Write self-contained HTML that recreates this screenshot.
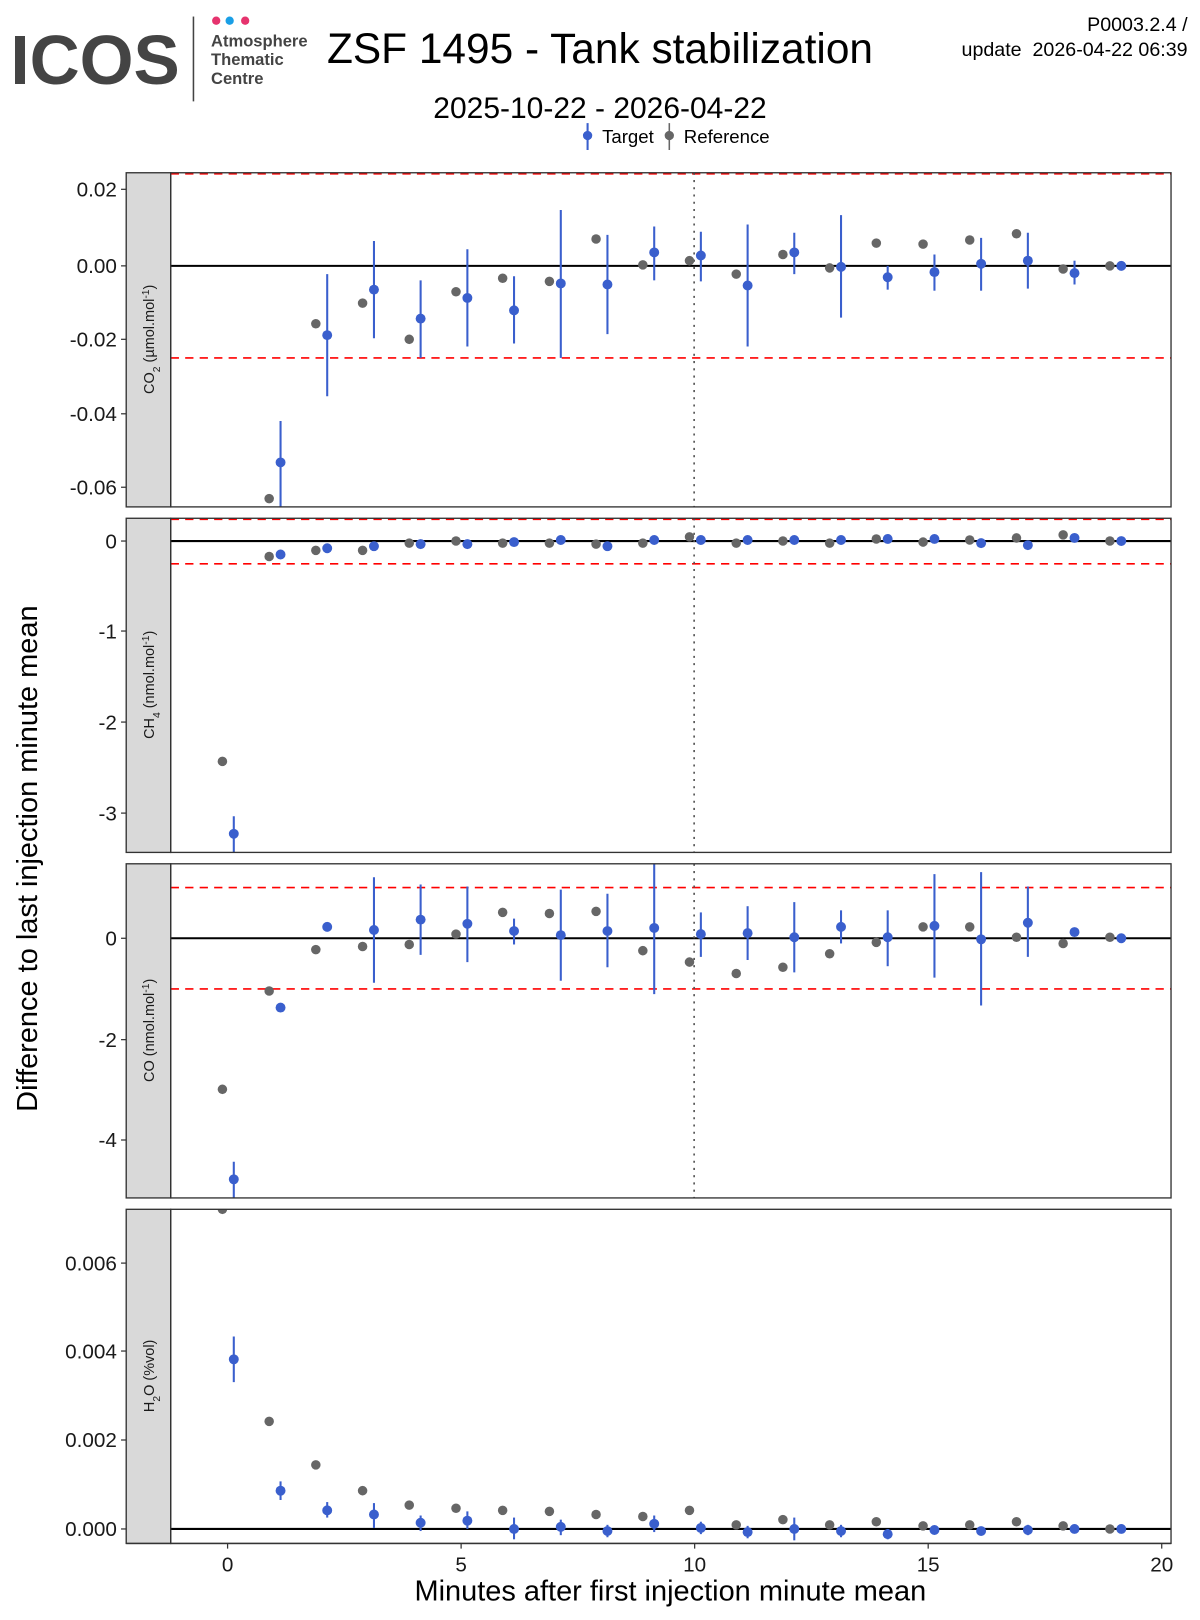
<!DOCTYPE html>
<html><head><meta charset="utf-8"><style>
html,body{margin:0;padding:0;background:#fff}
svg{display:block}
text{font-family:"Liberation Sans",sans-serif}
.tl{font-size:20px;text-anchor:end;fill:#1a1a1a}
.xl{font-size:20px;text-anchor:middle;fill:#1a1a1a}
.st{font-size:14px;text-anchor:middle;fill:#1a1a1a}
.g circle{fill:#666}
.b circle{fill:#3a5fcd}
.b line{stroke:#3a5fcd;stroke-width:2}
.strip{fill:#d9d9d9;stroke:#333;stroke-width:1.3}
.frame{fill:none;stroke:#333;stroke-width:1.3}
.tk{stroke:#333;stroke-width:1.2}
.z{stroke:#000;stroke-width:2}
.r{stroke:#f00;stroke-width:1.6;stroke-dasharray:8,6}
.v{stroke:#555;stroke-width:1.6;stroke-dasharray:2,5}
</style></head><body>
<svg width="1200" height="1620" viewBox="0 0 1160 1566" xmlns="http://www.w3.org/2000/svg">
<defs>
<clipPath id="c0"><rect x="165" y="167" width="967" height="323"/></clipPath>
<clipPath id="c1"><rect x="165" y="501" width="967" height="323"/></clipPath>
<clipPath id="c2"><rect x="165" y="835" width="967" height="323"/></clipPath>
<clipPath id="c3"><rect x="165" y="1169" width="967" height="323"/></clipPath>
</defs>
<rect width="1160" height="1566" fill="#fff"/>
<text x="10" y="81" font-size="67" font-weight="bold" fill="#444">ICOS</text>
<line x1="187" y1="16" x2="187" y2="98" stroke="#444" stroke-width="1.5"/>
<circle cx="209" cy="20" r="4" fill="#e6336e"/><circle cx="222" cy="20" r="4" fill="#1a9fe6"/><circle cx="237" cy="20" r="4" fill="#e6336e"/>
<text x="204" y="45" font-size="16" font-weight="bold" fill="#444">Atmosphere</text>
<text x="204" y="63" font-size="16" font-weight="bold" fill="#444">Thematic</text>
<text x="204" y="81" font-size="16" font-weight="bold" fill="#444">Centre</text>
<text x="580" y="61" font-size="41" text-anchor="middle">ZSF 1495 - Tank stabilization</text>
<text x="580" y="114" font-size="29" text-anchor="middle">2025-10-22 - 2026-04-22</text>
<text x="1148" y="30" font-size="19" text-anchor="end">P0003.2.4 /</text>
<text x="1148" y="54" font-size="19" text-anchor="end" xml:space="preserve">update  2026-04-22 06:39</text>
<line x1="568" y1="119" x2="568" y2="145" stroke="#3a5fcd" stroke-width="2"/><circle cx="568" cy="131" r="4.5" fill="#3a5fcd"/>
<text x="582" y="138" font-size="18">Target</text>
<line x1="647" y1="119" x2="647" y2="145" stroke="#666" stroke-width="1.5"/><circle cx="647" cy="131" r="4.5" fill="#666"/>
<text x="661" y="138" font-size="18">Reference</text>
<text x="648" y="1547" font-size="28" text-anchor="middle">Minutes after first injection minute mean</text>
<text transform="translate(36,830) rotate(-90)" font-size="28" text-anchor="middle">Difference to last injection minute mean</text>

<!-- Panel 1 CO2 -->
<rect class="strip" x="122" y="167" width="43" height="323"/>
<text class="st" transform="translate(149,328) rotate(-90)">CO<tspan baseline-shift="sub" font-size="10">2</tspan> (µmol.mol<tspan baseline-shift="super" font-size="10">-1</tspan>)</text>
<line class="tk" x1="117" y1="183" x2="122" y2="183"/><text class="tl" x="113" y="190">0.02</text>
<line class="tk" x1="117" y1="257" x2="122" y2="257"/><text class="tl" x="113" y="264">0.00</text>
<line class="tk" x1="117" y1="328" x2="122" y2="328"/><text class="tl" x="113" y="335">-0.02</text>
<line class="tk" x1="117" y1="400" x2="122" y2="400"/><text class="tl" x="113" y="407">-0.04</text>
<line class="tk" x1="117" y1="471" x2="122" y2="471"/><text class="tl" x="113" y="478">-0.06</text>
<g clip-path="url(#c0)">
<line class="z" x1="165" y1="257" x2="1132" y2="257"/>
<line class="r" x1="165" y1="168" x2="1132" y2="168"/>
<line class="r" x1="165" y1="346" x2="1132" y2="346"/>
<line class="v" x1="671" y1="167" x2="671" y2="490"/>
<g class="g">
<circle cx="260.2" cy="482" r="4.6"/><circle cx="305.3" cy="313" r="4.6"/><circle cx="350.5" cy="293" r="4.6"/><circle cx="395.6" cy="328" r="4.6"/><circle cx="440.8" cy="282" r="4.6"/><circle cx="485.9" cy="269" r="4.6"/><circle cx="531.1" cy="272" r="4.6"/><circle cx="576.2" cy="231" r="4.6"/><circle cx="621.4" cy="256" r="4.6"/><circle cx="666.5" cy="252" r="4.6"/><circle cx="711.7" cy="265" r="4.6"/><circle cx="756.8" cy="246" r="4.6"/><circle cx="802" cy="259" r="4.6"/><circle cx="847.1" cy="235" r="4.6"/><circle cx="892.3" cy="236" r="4.6"/><circle cx="937.4" cy="232" r="4.6"/><circle cx="982.6" cy="226" r="4.6"/><circle cx="1027.7" cy="260" r="4.6"/><circle cx="1072.9" cy="257" r="4.6"/>
</g>
<g class="b">
<line x1="271.2" y1="407" x2="271.2" y2="490"/><circle cx="271.2" cy="447" r="4.8"/>
<line x1="316.3" y1="265" x2="316.3" y2="383"/><circle cx="316.3" cy="324" r="4.8"/>
<line x1="361.5" y1="233" x2="361.5" y2="327"/><circle cx="361.5" cy="280" r="4.8"/>
<line x1="406.6" y1="271" x2="406.6" y2="346"/><circle cx="406.6" cy="308" r="4.8"/>
<line x1="451.8" y1="241" x2="451.8" y2="335"/><circle cx="451.8" cy="288" r="4.8"/>
<line x1="496.9" y1="267" x2="496.9" y2="332"/><circle cx="496.9" cy="300" r="4.8"/>
<line x1="542.1" y1="203" x2="542.1" y2="346"/><circle cx="542.1" cy="274" r="4.8"/>
<line x1="587.2" y1="227" x2="587.2" y2="323"/><circle cx="587.2" cy="275" r="4.8"/>
<line x1="632.4" y1="219" x2="632.4" y2="271"/><circle cx="632.4" cy="244" r="4.8"/>
<line x1="677.5" y1="224" x2="677.5" y2="272"/><circle cx="677.5" cy="247" r="4.8"/>
<line x1="722.7" y1="217" x2="722.7" y2="335"/><circle cx="722.7" cy="276" r="4.8"/>
<line x1="767.8" y1="225" x2="767.8" y2="265"/><circle cx="767.8" cy="244" r="4.8"/>
<line x1="813" y1="208" x2="813" y2="307"/><circle cx="813" cy="258" r="4.8"/>
<line x1="858.1" y1="257" x2="858.1" y2="280"/><circle cx="858.1" cy="268" r="4.8"/>
<line x1="903.3" y1="246" x2="903.3" y2="281"/><circle cx="903.3" cy="263" r="4.8"/>
<line x1="948.4" y1="230" x2="948.4" y2="281"/><circle cx="948.4" cy="255" r="4.8"/>
<line x1="993.6" y1="225" x2="993.6" y2="279"/><circle cx="993.6" cy="252" r="4.8"/>
<line x1="1038.7" y1="252" x2="1038.7" y2="275"/><circle cx="1038.7" cy="264" r="4.8"/>
<circle cx="1083.9" cy="257" r="4.8"/>
</g>
</g>
<rect class="frame" x="165" y="167" width="967" height="323"/>

<!-- Panel 2 CH4 -->
<rect class="strip" x="122" y="501" width="43" height="323"/>
<text class="st" transform="translate(149,662) rotate(-90)">CH<tspan baseline-shift="sub" font-size="10">4</tspan> (nmol.mol<tspan baseline-shift="super" font-size="10">-1</tspan>)</text>
<line class="tk" x1="117" y1="523" x2="122" y2="523"/><text class="tl" x="113" y="530">0</text>
<line class="tk" x1="117" y1="610" x2="122" y2="610"/><text class="tl" x="113" y="617">-1</text>
<line class="tk" x1="117" y1="698" x2="122" y2="698"/><text class="tl" x="113" y="705">-2</text>
<line class="tk" x1="117" y1="786" x2="122" y2="786"/><text class="tl" x="113" y="793">-3</text>
<g clip-path="url(#c1)">
<line class="z" x1="165" y1="523" x2="1132" y2="523"/>
<line class="r" x1="165" y1="502" x2="1132" y2="502"/>
<line class="r" x1="165" y1="545" x2="1132" y2="545"/>
<line class="v" x1="671" y1="501" x2="671" y2="824"/>
<g class="g">
<circle cx="215" cy="736" r="4.6"/><circle cx="260.2" cy="538" r="4.6"/><circle cx="305.3" cy="532" r="4.6"/><circle cx="350.5" cy="532" r="4.6"/><circle cx="395.6" cy="525" r="4.6"/><circle cx="440.8" cy="523" r="4.6"/><circle cx="485.9" cy="525" r="4.6"/><circle cx="531.1" cy="525" r="4.6"/><circle cx="576.2" cy="526" r="4.6"/><circle cx="621.4" cy="525" r="4.6"/><circle cx="666.5" cy="519" r="4.6"/><circle cx="711.7" cy="525" r="4.6"/><circle cx="756.8" cy="523" r="4.6"/><circle cx="802" cy="525" r="4.6"/><circle cx="847.1" cy="521" r="4.6"/><circle cx="892.3" cy="524" r="4.6"/><circle cx="937.4" cy="522" r="4.6"/><circle cx="982.6" cy="520" r="4.6"/><circle cx="1027.7" cy="517" r="4.6"/><circle cx="1072.9" cy="523" r="4.6"/>
</g>
<g class="b">
<line x1="226" y1="789" x2="226" y2="824"/><circle cx="226" cy="806" r="4.8"/>
<circle cx="271.2" cy="536" r="4.8"/><circle cx="316.3" cy="530" r="4.8"/><circle cx="361.5" cy="528" r="4.8"/><circle cx="406.6" cy="526" r="4.8"/><circle cx="451.8" cy="526" r="4.8"/><circle cx="496.9" cy="524" r="4.8"/><circle cx="542.1" cy="522" r="4.8"/><circle cx="587.2" cy="528" r="4.8"/><circle cx="632.4" cy="522" r="4.8"/><circle cx="677.5" cy="522" r="4.8"/><circle cx="722.7" cy="522" r="4.8"/><circle cx="767.8" cy="522" r="4.8"/><circle cx="813" cy="522" r="4.8"/><circle cx="858.1" cy="521" r="4.8"/><circle cx="903.3" cy="521" r="4.8"/><circle cx="948.4" cy="525" r="4.8"/><circle cx="993.6" cy="527" r="4.8"/><circle cx="1038.7" cy="520" r="4.8"/><circle cx="1083.9" cy="523" r="4.8"/>
</g>
</g>
<rect class="frame" x="165" y="501" width="967" height="323"/>

<!-- Panel 3 CO -->
<rect class="strip" x="122" y="835" width="43" height="323"/>
<text class="st" transform="translate(149,996) rotate(-90)">CO (nmol.mol<tspan baseline-shift="super" font-size="10">-1</tspan>)</text>
<line class="tk" x1="117" y1="907" x2="122" y2="907"/><text class="tl" x="113" y="914">0</text>
<line class="tk" x1="117" y1="1005" x2="122" y2="1005"/><text class="tl" x="113" y="1012">-2</text>
<line class="tk" x1="117" y1="1102" x2="122" y2="1102"/><text class="tl" x="113" y="1109">-4</text>
<g clip-path="url(#c2)">
<line class="z" x1="165" y1="907" x2="1132" y2="907"/>
<line class="r" x1="165" y1="858" x2="1132" y2="858"/>
<line class="r" x1="165" y1="956" x2="1132" y2="956"/>
<line class="v" x1="671" y1="835" x2="671" y2="1158"/>
<g class="g">
<circle cx="215" cy="1053" r="4.6"/><circle cx="260.2" cy="958" r="4.6"/><circle cx="305.3" cy="918" r="4.6"/><circle cx="350.5" cy="915" r="4.6"/><circle cx="395.6" cy="913" r="4.6"/><circle cx="440.8" cy="903" r="4.6"/><circle cx="485.9" cy="882" r="4.6"/><circle cx="531.1" cy="883" r="4.6"/><circle cx="576.2" cy="881" r="4.6"/><circle cx="621.4" cy="919" r="4.6"/><circle cx="666.5" cy="930" r="4.6"/><circle cx="711.7" cy="941" r="4.6"/><circle cx="756.8" cy="935" r="4.6"/><circle cx="802" cy="922" r="4.6"/><circle cx="847.1" cy="911" r="4.6"/><circle cx="892.3" cy="896" r="4.6"/><circle cx="937.4" cy="896" r="4.6"/><circle cx="982.6" cy="906" r="4.6"/><circle cx="1027.7" cy="912" r="4.6"/><circle cx="1072.9" cy="906" r="4.6"/>
</g>
<g class="b">
<line x1="226" y1="1123" x2="226" y2="1158"/><circle cx="226" cy="1140" r="4.8"/>
<circle cx="271.2" cy="974" r="4.8"/>
<circle cx="316.3" cy="896" r="4.8"/>
<line x1="361.5" y1="848" x2="361.5" y2="950"/><circle cx="361.5" cy="899" r="4.8"/>
<line x1="406.6" y1="855" x2="406.6" y2="923"/><circle cx="406.6" cy="889" r="4.8"/>
<line x1="451.8" y1="857" x2="451.8" y2="930"/><circle cx="451.8" cy="893" r="4.8"/>
<line x1="496.9" y1="888" x2="496.9" y2="913"/><circle cx="496.9" cy="900" r="4.8"/>
<line x1="542.1" y1="860" x2="542.1" y2="948"/><circle cx="542.1" cy="904" r="4.8"/>
<line x1="587.2" y1="864" x2="587.2" y2="935"/><circle cx="587.2" cy="900" r="4.8"/>
<line x1="632.4" y1="835" x2="632.4" y2="961"/><circle cx="632.4" cy="897" r="4.8"/>
<line x1="677.5" y1="882" x2="677.5" y2="925"/><circle cx="677.5" cy="903" r="4.8"/>
<line x1="722.7" y1="876" x2="722.7" y2="928"/><circle cx="722.7" cy="902" r="4.8"/>
<line x1="767.8" y1="872" x2="767.8" y2="940"/><circle cx="767.8" cy="906" r="4.8"/>
<line x1="813" y1="880" x2="813" y2="912"/><circle cx="813" cy="896" r="4.8"/>
<line x1="858.1" y1="880" x2="858.1" y2="934"/><circle cx="858.1" cy="906" r="4.8"/>
<line x1="903.3" y1="845" x2="903.3" y2="945"/><circle cx="903.3" cy="895" r="4.8"/>
<line x1="948.4" y1="843" x2="948.4" y2="972"/><circle cx="948.4" cy="908" r="4.8"/>
<line x1="993.6" y1="857" x2="993.6" y2="925"/><circle cx="993.6" cy="892" r="4.8"/>
<circle cx="1038.7" cy="901" r="4.8"/>
<circle cx="1083.9" cy="907" r="4.8"/>
</g>
</g>
<rect class="frame" x="165" y="835" width="967" height="323"/>

<!-- Panel 4 H2O -->
<rect class="strip" x="122" y="1169" width="43" height="323"/>
<text class="st" transform="translate(149,1330) rotate(-90)">H<tspan baseline-shift="sub" font-size="10">2</tspan>O (%vol)</text>
<line class="tk" x1="117" y1="1221" x2="122" y2="1221"/><text class="tl" x="113" y="1228">0.006</text>
<line class="tk" x1="117" y1="1306" x2="122" y2="1306"/><text class="tl" x="113" y="1313">0.004</text>
<line class="tk" x1="117" y1="1392" x2="122" y2="1392"/><text class="tl" x="113" y="1399">0.002</text>
<line class="tk" x1="117" y1="1478" x2="122" y2="1478"/><text class="tl" x="113" y="1485">0.000</text>
<g clip-path="url(#c3)">
<line class="z" x1="165" y1="1478" x2="1132" y2="1478"/>
<g class="g">
<circle cx="215" cy="1169" r="4.6"/><circle cx="260.2" cy="1374" r="4.6"/><circle cx="305.3" cy="1416" r="4.6"/><circle cx="350.5" cy="1441" r="4.6"/><circle cx="395.6" cy="1455" r="4.6"/><circle cx="440.8" cy="1458" r="4.6"/><circle cx="485.9" cy="1460" r="4.6"/><circle cx="531.1" cy="1461" r="4.6"/><circle cx="576.2" cy="1464" r="4.6"/><circle cx="621.4" cy="1466" r="4.6"/><circle cx="666.5" cy="1460" r="4.6"/><circle cx="711.7" cy="1474" r="4.6"/><circle cx="756.8" cy="1469" r="4.6"/><circle cx="802" cy="1474" r="4.6"/><circle cx="847.1" cy="1471" r="4.6"/><circle cx="892.3" cy="1475" r="4.6"/><circle cx="937.4" cy="1474" r="4.6"/><circle cx="982.6" cy="1471" r="4.6"/><circle cx="1027.7" cy="1475" r="4.6"/><circle cx="1072.9" cy="1478" r="4.6"/>
</g>
<g class="b">
<line x1="226" y1="1292" x2="226" y2="1336"/><circle cx="226" cy="1314" r="4.8"/>
<line x1="271.2" y1="1432" x2="271.2" y2="1450"/><circle cx="271.2" cy="1441" r="4.8"/>
<line x1="316.3" y1="1452" x2="316.3" y2="1467"/><circle cx="316.3" cy="1460" r="4.8"/>
<line x1="361.5" y1="1453" x2="361.5" y2="1477"/><circle cx="361.5" cy="1464" r="4.8"/>
<line x1="406.6" y1="1465" x2="406.6" y2="1480"/><circle cx="406.6" cy="1472" r="4.8"/>
<line x1="451.8" y1="1461" x2="451.8" y2="1478"/><circle cx="451.8" cy="1470" r="4.8"/>
<line x1="496.9" y1="1467" x2="496.9" y2="1488"/><circle cx="496.9" cy="1478" r="4.8"/>
<line x1="542.1" y1="1469" x2="542.1" y2="1484"/><circle cx="542.1" cy="1476" r="4.8"/>
<line x1="587.2" y1="1474" x2="587.2" y2="1486"/><circle cx="587.2" cy="1480" r="4.8"/>
<line x1="632.4" y1="1465" x2="632.4" y2="1481"/><circle cx="632.4" cy="1473" r="4.8"/>
<line x1="677.5" y1="1471" x2="677.5" y2="1483"/><circle cx="677.5" cy="1477" r="4.8"/>
<line x1="722.7" y1="1475" x2="722.7" y2="1487"/><circle cx="722.7" cy="1481" r="4.8"/>
<line x1="767.8" y1="1467" x2="767.8" y2="1489"/><circle cx="767.8" cy="1478" r="4.8"/>
<line x1="813" y1="1474" x2="813" y2="1486"/><circle cx="813" cy="1480" r="4.8"/>
<line x1="858.1" y1="1478" x2="858.1" y2="1488"/><circle cx="858.1" cy="1483" r="4.8"/>
<circle cx="903.3" cy="1479" r="4.8"/>
<circle cx="948.4" cy="1480" r="4.8"/>
<line x1="993.6" y1="1474" x2="993.6" y2="1484"/><circle cx="993.6" cy="1479" r="4.8"/>
<circle cx="1038.7" cy="1478" r="4.8"/>
<circle cx="1083.9" cy="1478" r="4.8"/>
</g>
</g>
<rect class="frame" x="165" y="1169" width="967" height="323"/>

<!-- x axis -->
<line x1="122" y1="1492" x2="1132" y2="1492" stroke="#333" stroke-width="1.3"/>
<line class="tk" x1="220" y1="1492" x2="220" y2="1497"/><text class="xl" x="220" y="1519">0</text>
<line class="tk" x1="445.75" y1="1492" x2="445.75" y2="1497"/><text class="xl" x="445.75" y="1519">5</text>
<line class="tk" x1="671.5" y1="1492" x2="671.5" y2="1497"/><text class="xl" x="671.5" y="1519">10</text>
<line class="tk" x1="897.25" y1="1492" x2="897.25" y2="1497"/><text class="xl" x="897.25" y="1519">15</text>
<line class="tk" x1="1123" y1="1492" x2="1123" y2="1497"/><text class="xl" x="1123" y="1519">20</text>
</svg>
</body></html>
